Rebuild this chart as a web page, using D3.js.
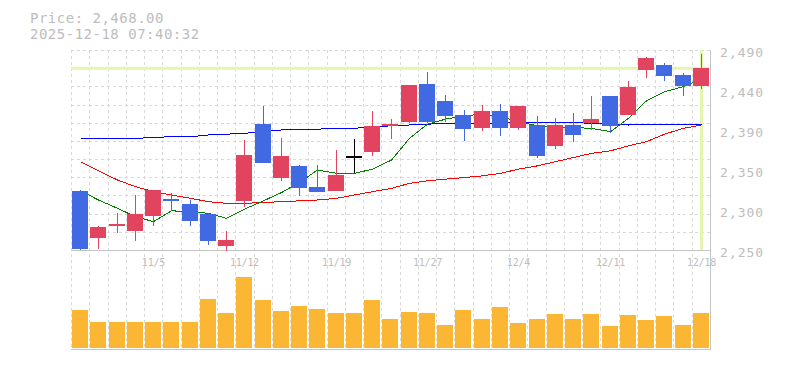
<!DOCTYPE html>
<html>
<head>
<meta charset="utf-8">
<script src="https://cdn.jsdelivr.net/npm/d3@7"></script>
<style>
body { margin: 0; background: #fff; }
svg { display: block; }
text { font-family: "DejaVu Sans Mono", monospace; fill: #bdbdbd; }
</style>
</head>
<body>
<div id="chart"></div>
<script>
// data
var dates = ['10/29','10/30','10/31','11/4','11/5','11/6','11/7','11/10','11/11','11/12',
             '11/13','11/14','11/17','11/18','11/19','11/20','11/21','11/25','11/26','11/27',
             '11/28','12/1','12/2','12/3','12/4','12/5','12/8','12/9','12/10','12/11',
             '12/12','12/15','12/16','12/17','12/18'];
var opens  = [2321,2265,2279,2273,2291,2310,2305,2293,2255,2309,2401,2337,2351,2326,2321,2362,2368,2399,2404,2449,
              2429,2412,2396,2417,2396,2400,2375,2400,2402,2435,2412,2466,2472,2460,2447];
var highs  = [2322,2279,2295,2316,2322,2319,2310,2294,2273,2382,2423,2384,2352,2352,2370,2383,2417,2407,2448,2464,
              2436,2418,2424,2425,2423,2411,2409,2414,2435,2435,2453,2482,2474,2462,2485];
var lows   = [2250,2251,2271,2261,2279,2297,2279,2256,2249,2302,2354,2333,2315,2320,2321,2342,2363,2383,2402,2402,
              2404,2381,2393,2387,2394,2361,2371,2380,2394,2391,2412,2457,2453,2435,2443];
var closes = [2251,2278,2280,2293,2322,2309,2285,2261,2262,2364,2355,2363,2325,2320,2340,2362,2399,2401,2448,2404,
              2411,2395,2417,2396,2423,2363,2400,2388,2407,2399,2446,2480,2459,2447,2468];
var maShort = [2321,2310,2300,2290,2284,2297,2296,2294,2288,2299,2309,2319,2331,2346,2342,2342,2347,2358,2384,2401,
               2407,2411,2413,2410,2404,2399,2398,2397,2396,2392,2408,2429,2440,2446,2455];
var maMid   = [2356,2345,2334,2326,2320,2316,2312,2308,2306,2306,2307,2308,2309,2310,2312,2316,2320,2324,2330,2333,
               2335,2337,2339,2342,2347,2351,2356,2361,2366,2369,2375,2380,2389,2396,2400];
var maLong  = [2384,2384,2384,2384,2385,2386,2386,2388,2389,2390,2392,2394,2395,2395,2396,2396,2398,2399,2400,2401,
               2402,2402,2402,2402,2403,2403,2403,2403,2402,2401,2400,2401,2401,2401,2401];
var volumes = [38,26,26,26,26,26,26,49,35,71,48,37,42,39,35,35,48,29,36,35,
               23,38,29,41,25,29,34,29,34,22,33,28,32,23,35];
var priceTicks = [2250, 2298, 2346, 2394, 2442, 2490];
var priceTickLabels = ['2,250', '2,300', '2,350', '2,390', '2,440', '2,490'];
var dateLabels = ['11/5', '11/12', '11/19', '11/27', '12/4', '12/11', '12/18'];
var lastPrice = 2468;
var lastTime = '2025-12-18 07:40:32';

var W = 785, H = 370;
var left = 71, right = 710, pTop = 50, pBottom = 250, vBottom = 349;

var svg = d3.select('#chart').append('svg').attr('width', W).attr('height', H);

var x = d3.scaleBand().domain(dates).range([left, right]).paddingInner(0.12).paddingOuter(0.06);
var y = d3.scaleLinear().domain([2250, 2490]).range([pBottom, pTop]);
var vy = d3.scaleLinear().domain([0, 98]).range([vBottom - 1, pBottom]);

function cx(i) { return Math.round(x(dates[i]) + x.bandwidth() / 2) + 0.5; }
function px(v) { return Math.round(v) + 0.5; }

// grid
var grid = svg.append('g').attr('stroke', '#d9d9d9').attr('stroke-dasharray', '3,3');
var cols = d3.range(dates.length).map(function (k) { return left + k * x.step(); });
grid.selectAll('line.v').data(cols).enter().append('line')
    .attr('x1', px).attr('x2', px).attr('y1', pTop).attr('y2', vBottom);
var rows = d3.range(11).map(function (k) { return 2490 - k * 240 / 11; });
grid.selectAll('line.h').data(rows).enter().append('line')
    .attr('x1', left).attr('x2', right)
    .attr('y1', function (d) { return px(y(d)); }).attr('y2', function (d) { return px(y(d)); });

// borders
var border = svg.append('g').attr('stroke', '#c4c4c4').attr('shape-rendering', 'crispEdges');
border.append('line').attr('x1', left).attr('x2', right + 1).attr('y1', pBottom + 0.5).attr('y2', pBottom + 0.5);
border.append('line').attr('x1', left).attr('x2', right + 1).attr('y1', vBottom + 0.5).attr('y2', vBottom + 0.5);
border.append('line').attr('x1', right + 0.5).attr('x2', right + 0.5).attr('y1', pTop).attr('y2', vBottom + 1);

// last price markers
var last = dates.length - 1;
svg.append('line').attr('x1', left).attr('x2', right).attr('y1', y(lastPrice)).attr('y2', y(lastPrice))
    .attr('stroke', '#e5f5b0').attr('stroke-width', 3);
svg.append('line').attr('x1', cx(last)).attr('x2', cx(last)).attr('y1', pTop).attr('y2', pBottom)
    .attr('stroke', '#e5f5b0').attr('stroke-width', 3);

// moving averages
function maLine(values, color) {
    var line = d3.line()
        .x(function (d, i) { return cx(i); })
        .y(function (d) { return y(d); });
    svg.append('path').datum(values).attr('d', line)
        .attr('fill', 'none').attr('stroke', color).attr('stroke-width', 1)
        .attr('shape-rendering', 'crispEdges');
}
maLine(maLong, '#0000ff');
maLine(maMid, '#ff0000');
maLine(maShort, '#008000');

// candles
function candleColor(i) {
    if (closes[i] > opens[i]) return '#e2445f';
    if (closes[i] < opens[i]) return '#4169e1';
    return '#000000';
}
var candles = svg.append('g').attr('shape-rendering', 'crispEdges');
dates.forEach(function (d, i) {
    var col = candleColor(i);
    candles.append('line')
        .attr('x1', cx(i)).attr('x2', cx(i))
        .attr('y1', y(highs[i])).attr('y2', y(lows[i]))
        .attr('stroke', col);
    var top = y(Math.max(opens[i], closes[i]));
    var h = Math.abs(y(opens[i]) - y(closes[i]));
    if (h < 2) { top = top + h / 2 - 1; h = 2; }
    candles.append('rect')
        .attr('x', Math.round(x(d))).attr('width', Math.round(x.bandwidth()))
        .attr('y', top).attr('height', h)
        .attr('fill', col);
});

// volume
svg.append('g').attr('shape-rendering', 'crispEdges')
    .selectAll('rect').data(volumes).enter().append('rect')
    .attr('x', function (d, i) { return Math.round(x(dates[i])); })
    .attr('width', Math.round(x.bandwidth()))
    .attr('y', function (d) { return vy(d); })
    .attr('height', function (d) { return vy(0) - vy(d); })
    .attr('fill', '#fbb633');

// price axis labels
svg.append('g').selectAll('text').data(priceTicks).enter().append('text')
    .attr('x', 720).attr('y', function (d) { return y(d) + 7.3; })
    .style('font-size', '13px').style('letter-spacing', '1px')
    .text(function (d, i) { return priceTickLabels[i]; });

// date labels
svg.append('g').selectAll('text').data(dateLabels).enter().append('text')
    .attr('x', function (d) { return cx(dates.indexOf(d)); })
    .attr('y', 266)
    .attr('text-anchor', 'middle')
    .style('font-size', '10px').style('letter-spacing', '-0.2px')
    .text(function (d) { return d; });

// header
svg.append('text').attr('x', 30).attr('y', 22.5)
    .style('font-size', '14px').style('letter-spacing', '0.5px')
    .text('Price: ' + d3.format(',.2f')(lastPrice));
svg.append('text').attr('x', 30).attr('y', 38.5)
    .style('font-size', '14px').style('letter-spacing', '0.5px')
    .text(lastTime);
</script>
</body>
</html>
